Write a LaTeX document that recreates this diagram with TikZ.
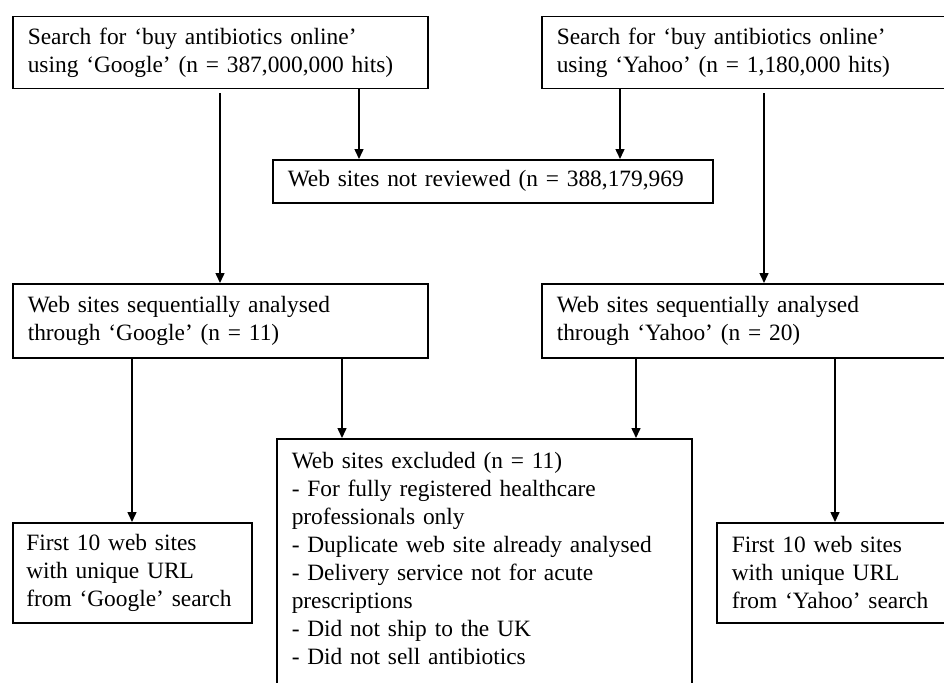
\documentclass[tikz,border=0pt]{standalone}
\usepackage{fontspec}
\setmainfont{Liberation Serif}
\usetikzlibrary{arrows.meta}
\begin{document}
\begin{tikzpicture}[x=1pt,y=-1pt,
  box/.style={draw, line width=1.5pt, anchor=north west, inner xsep=15pt, inner ysep=0pt,
    align=left, font=\fontsize{23.4pt}{28pt}\selectfont},
  arr/.style={line width=1.5pt, -{Triangle[width=9pt,length=10pt]}}]
\useasboundingbox (0,0) rectangle (944,682);
\clip (0,0) rectangle (944,682);

\node[box, text width=385pt, minimum height=72pt] (G1) at (12,16)
  {\mbox{Search for ‘buy antibiotics online’}\\\mbox{using ‘Google’ (n = 387,000,000 hits)}};
\node[box, text width=390pt, minimum height=72pt] (Y1) at (541,16)
  {\mbox{Search for ‘buy antibiotics online’}\\\mbox{using ‘Yahoo’ (n = 1,180,000 hits)}};
\node[box, text width=410pt, minimum height=43pt] (NR) at (272,159)
  {\mbox{Web sites not reviewed (n = 388,179,969}};
\node[box, text width=385pt, minimum height=74pt] (G2) at (12,283)
  {\mbox{Web sites sequentially analysed}\\\mbox{through ‘Google’ (n = 11)}};
\node[box, text width=390pt, minimum height=74pt] (Y2) at (541,283)
  {\mbox{Web sites sequentially analysed}\\\mbox{through ‘Yahoo’ (n = 20)}};
\node[box, text width=385pt, inner ysep=14pt] (EX) at (276,438)
  {\mbox{Web sites excluded (n = 11)}\\\mbox{- For fully registered healthcare}\\\mbox{professionals only}\\\mbox{- Duplicate web site already analysed}\\\mbox{- Delivery service not for acute}\\\mbox{prescriptions}\\\mbox{- Did not ship to the UK}\\\mbox{- Did not sell antibiotics}\\\mbox{}};
\node[box, text width=212pt, inner xsep=13.5pt, minimum height=100pt] (G3) at (12,522)
  {\mbox{First 10 web sites}\\\mbox{with unique URL}\\\mbox{from ‘Google’ search}};
\node[box, text width=215pt, minimum height=100pt] (Y3) at (716,522)
  {\mbox{First 10 web sites}\\\mbox{with unique URL}\\\mbox{from ‘Yahoo’ search}};

\coordinate (xa) at (220,0);
\coordinate (xb) at (359,0);
\coordinate (xc) at (620,0);
\coordinate (xd) at (764,0);
\coordinate (xe) at (132,0);
\coordinate (xf) at (342,0);
\coordinate (xg) at (636,0);
\coordinate (xh) at (835,0);

\draw[arr, shorten <=4pt] (G1.south -| xa) -- (G2.north -| xa);
\draw[arr] (G1.south -| xb) -- (NR.north -| xb);
\draw[arr] (Y1.south -| xc) -- (NR.north -| xc);
\draw[arr, shorten <=4pt] (Y1.south -| xd) -- (Y2.north -| xd);
\draw[arr] (G2.south -| xe) -- (G3.north -| xe);
\draw[arr] (G2.south -| xf) -- (EX.north -| xf);
\draw[arr] (Y2.south -| xg) -- (EX.north -| xg);
\draw[arr] (Y2.south -| xh) -- (Y3.north -| xh);
\end{tikzpicture}
\end{document}
